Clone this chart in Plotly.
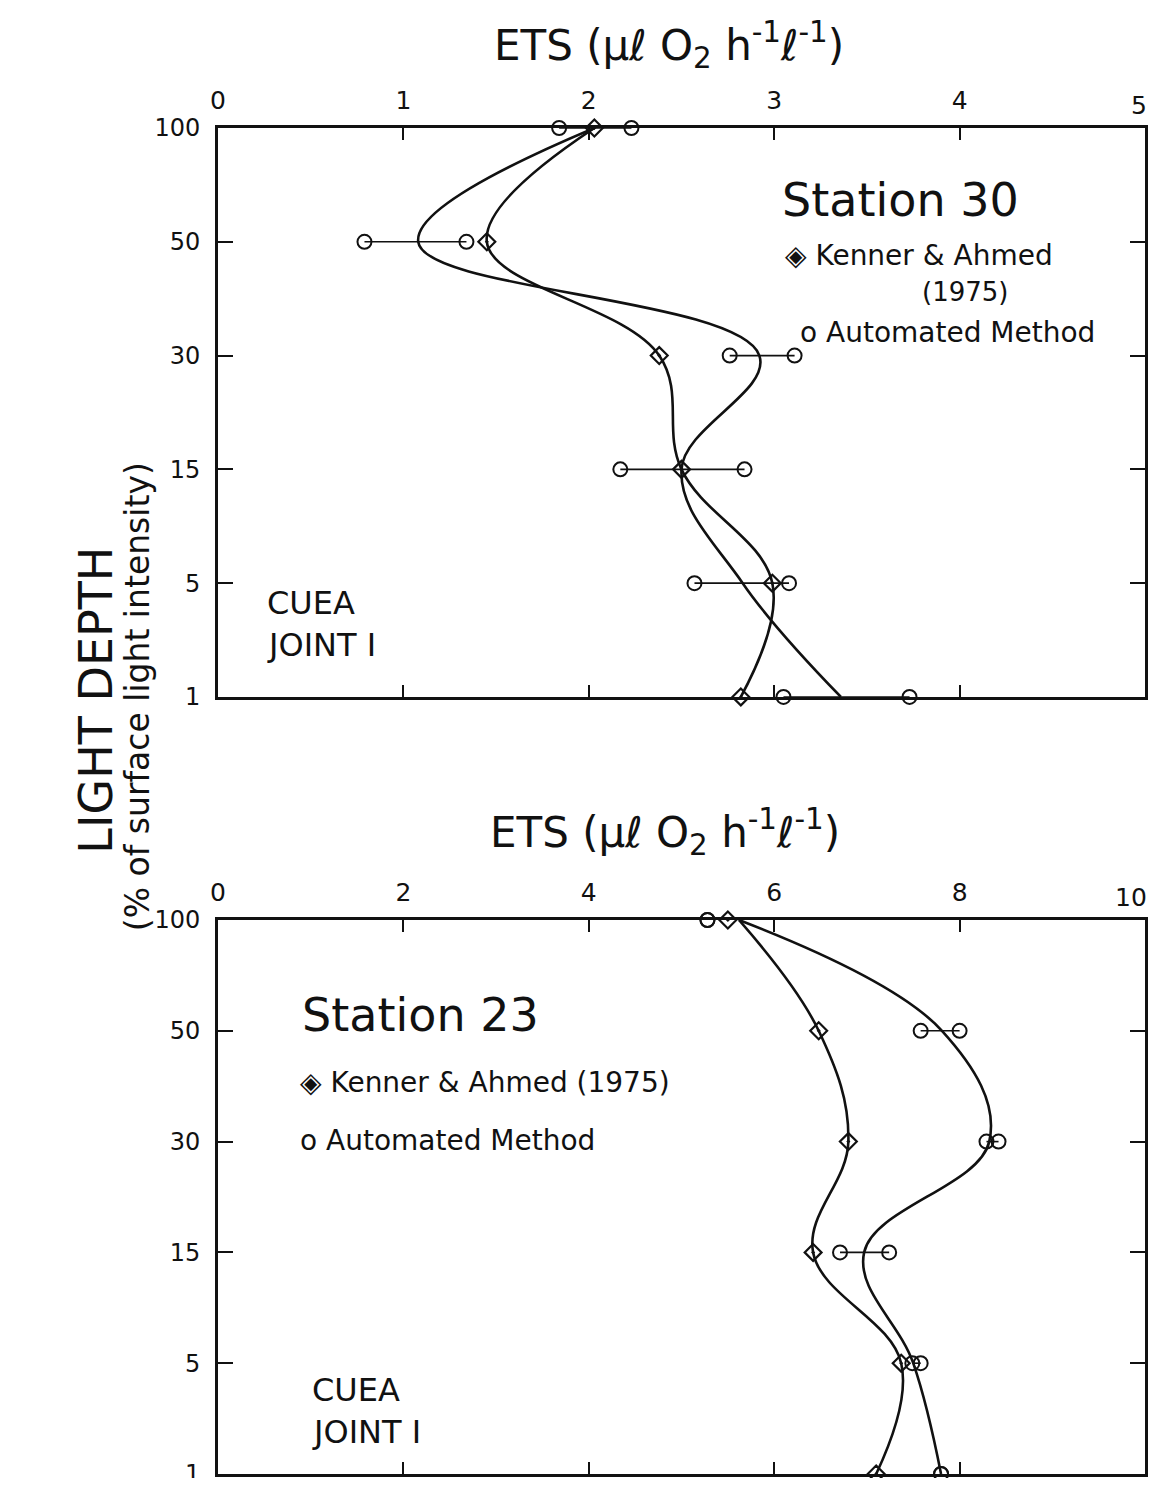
import plotly.graph_objects as go

# ---------------- data ----------------
DEPTHS = ["100", "50", "30", "15", "5", "1"]

# Station 30 (top panel), ETS in ul O2 h-1 l-1
s30_kenner = [2.03, 1.45, 2.38, 2.50, 2.99, 2.82]
s30_auto_lo = [1.84, 0.79, 2.76, 2.17, 2.57, 3.05]
s30_auto_hi = [2.23, 1.34, 3.11, 2.84, 3.08, 3.73]
s30_auto_curve = [2.03, 1.08, 2.92, 2.50, 2.83, 3.36]

# Station 23 (bottom panel)
s23_kenner = [5.50, 6.48, 6.80, 6.42, 7.37, 7.10]
s23_kenner_curve = [5.62, 6.48, 6.80, 6.42, 7.37, 7.10]
s23_auto_lo = [5.28, 7.58, 8.29, 6.71, 7.49, 7.80]
s23_auto_hi = [5.28, 8.00, 8.42, 7.24, 7.58, 7.80]
s23_auto_curve = [5.62, 7.81, 8.32, 6.97, 7.50, 7.80]

X1_TICKS = [0, 1, 2, 3, 4, 5]
X1_LABELS = ["0", "1", "2", "3", "4", "5"]
X2_TICKS = [0, 2, 4, 6, 8, 10]
X2_LABELS = ["0", "2", "4", "6", "8", "10"]

FONT = "DejaVu Sans"
BLACK = "#111111"

fig = go.Figure()


def add_panel(xa, ya, kenner, kenner_curve, lo, hi, auto_curve):
    fig.add_trace(go.Scatter(x=kenner_curve, y=DEPTHS, mode="lines",
                             line=dict(color=BLACK, width=2.6, shape="spline", smoothing=1.1),
                             xaxis=xa, yaxis=ya, showlegend=False, cliponaxis=False,
                             hoverinfo="skip"))
    fig.add_trace(go.Scatter(x=auto_curve, y=DEPTHS, mode="lines",
                             line=dict(color=BLACK, width=2.6, shape="spline", smoothing=1.1),
                             xaxis=xa, yaxis=ya, showlegend=False, cliponaxis=False,
                             hoverinfo="skip"))
    for d, a, b in zip(DEPTHS, lo, hi):
        fig.add_trace(go.Scatter(x=[a, b], y=[d, d], mode="lines+markers",
                                 line=dict(color=BLACK, width=1.6),
                                 marker=dict(symbol="circle-open", size=14, color=BLACK,
                                             line=dict(width=2, color=BLACK)),
                                 xaxis=xa, yaxis=ya, showlegend=False, cliponaxis=False))
    fig.add_trace(go.Scatter(x=kenner, y=DEPTHS, mode="markers",
                             marker=dict(symbol="diamond-open-dot", size=13, color=BLACK,
                                         line=dict(width=2.2, color=BLACK)),
                             xaxis=xa, yaxis=ya, showlegend=False, cliponaxis=False))


add_panel("x", "y", s30_kenner, s30_kenner, s30_auto_lo, s30_auto_hi, s30_auto_curve)
add_panel("x2", "y2", s23_kenner, s23_kenner_curve, s23_auto_lo, s23_auto_hi, s23_auto_curve)

xcommon = dict(side="top", ticks="inside", ticklen=12, tickwidth=2, tickcolor=BLACK,
               mirror="ticks", showline=True, linewidth=2.6, linecolor=BLACK,
               showgrid=False, zeroline=False, automargin=False, ticklabelstandoff=6,
               tickfont=dict(family=FONT, size=25, color=BLACK))
ycommon = dict(type="category", categoryorder="array", categoryarray=DEPTHS,
               range=[5, 0], autorange=False, ticks="inside", ticklen=15, tickwidth=2,
               tickcolor=BLACK, mirror="ticks", showline=True, linewidth=2.6,
               linecolor=BLACK, showgrid=False, zeroline=False, automargin=False,
               ticklabelstandoff=10, ticklabeloverflow="allow",
               tickfont=dict(family=FONT, size=24, color=BLACK))

# the page body adds an 8 px margin on every side, so the figure is 16 px smaller
fig.update_layout(
    width=1141, height=1470,
    margin=dict(l=210, r=4, t=120, b=4),
    paper_bgcolor="white", plot_bgcolor="white",
    font=dict(family=FONT, color=BLACK),
    # the last tick label of each axis is placed below as an annotation so it is not clipped
    xaxis=dict(domain=[0, 1], anchor="y", range=[0, 5], tickvals=X1_TICKS[:-1],
               ticktext=X1_LABELS[:-1], **xcommon),
    yaxis=dict(domain=[0.5773, 1.0], anchor="x", **ycommon),
    xaxis2=dict(domain=[0, 1], anchor="y2", range=[0, 10], tickvals=X2_TICKS[:-1],
                ticktext=X2_LABELS[:-1], **xcommon),
    yaxis2=dict(domain=[0.0, 0.4116], anchor="x2", **ycommon),
)

# inside tick marks for the last x value (the tick itself stays on the axis)
for xa, ya, val, lab in (("x", "y domain", X1_TICKS[-1], X1_LABELS[-1]),
                         ("x2", "y2 domain", X2_TICKS[-1], X2_LABELS[-1])):
    fig.add_annotation(text=lab, x=val, y=1.0, xref=xa, yref=ya,
                       xanchor="right", yanchor="bottom", yshift=6, xshift=4,
                       showarrow=False, font=dict(family=FONT, size=25, color=BLACK))

ets = "ETS (µℓ O<sub>2</sub> h<sup>-1</sup>ℓ<sup>-1</sup>)"


def ann(text, x, y, size, xanchor="left", textangle=0):
    fig.add_annotation(text=text, x=x, y=y, xref="paper", yref="paper",
                       xanchor=xanchor, yanchor="middle", showarrow=False,
                       textangle=textangle,
                       font=dict(family=FONT, size=size, color=BLACK))


# axis titles
ann(ets, 0.487, 1.0617, 42, xanchor="center")
ann(ets, 0.482, 0.477, 42, xanchor="center")
ann("LIGHT DEPTH", -0.132, 0.575, 46, xanchor="center", textangle=-90)
ann("(% of surface light intensity)", -0.086, 0.5773, 33, xanchor="center", textangle=-90)

# top panel labels
ann("Station 30", 0.606, 0.9465, 46)
ann("◈ Kenner & Ahmed", 0.6095, 0.905, 28)
ann("(1975)", 0.806, 0.878, 26, xanchor="center")
ann("o Automated Method", 0.6257, 0.8477, 28)
ann("CUEA", 0.0507, 0.647, 32)
ann("JOINT I", 0.0507, 0.6159, 32)

# bottom panel labels
ann("Station 23", 0.0885, 0.341, 46)
ann("◈ Kenner & Ahmed (1975)", 0.0863, 0.2912, 28)
ann("o Automated Method", 0.0863, 0.2481, 28)
ann("CUEA", 0.0992, 0.0624, 32)
ann("JOINT I", 0.0992, 0.0312, 32)

fig.write_html("out.html")
